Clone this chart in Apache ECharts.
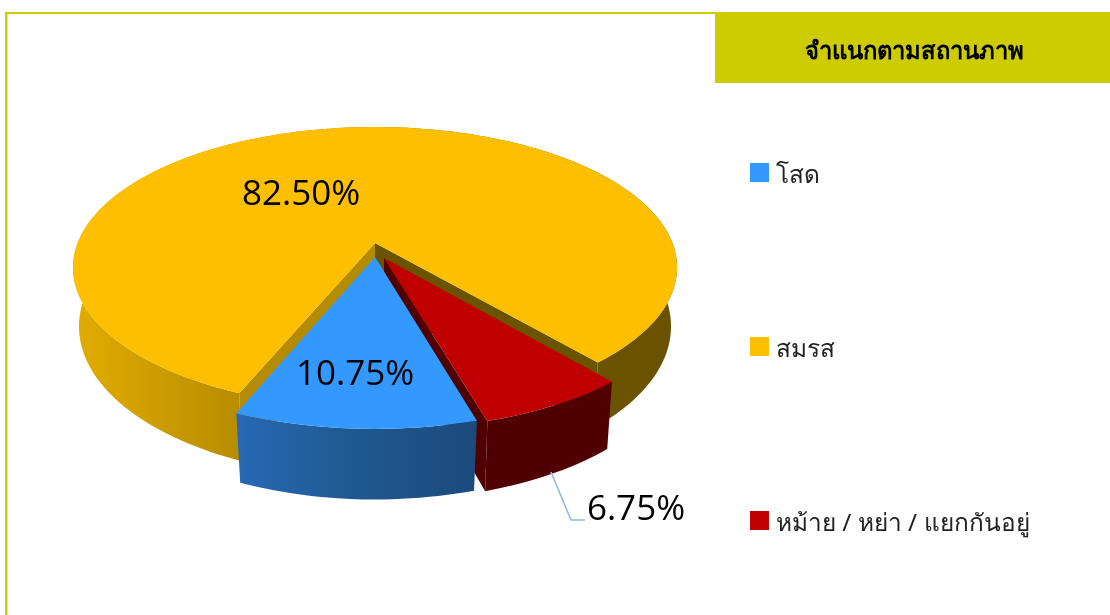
<!DOCTYPE html>
<html><head><meta charset="utf-8">
<style>html,body{margin:0;padding:0;background:#fff}#c{width:1110px;height:615px}</style>
<script src="https://cdn.jsdelivr.net/npm/echarts@6/dist/echarts.min.js"></script>
</head><body><div id="c"></div>
<script>
const chartTitle = 'จำแนกตามสถานภาพ';
const categories = ['โสด', 'สมรส', 'หม้าย / หย่า / แยกกันอยู่'];
const shares = [10.75, 82.50, 6.75];
const sliceColors = ['#3399ff', '#fdbf00', '#c00000'];
const clockwiseOrder = [0, 2, 1];
const START_DEG = -22.5;
const view = {cx: 375, cy: 243, A: 297.4, B: 136.3, k: 0.175, depth: 57};
const explode = [{u: 0, v: 0.101, r: 1, s: 0.972}, {u: 0, v: 0, r: 1, s: 0.98}, {u: 0.03, v: 0.108, r: 0.995, s: 0.98}];
const labelPos = [[355, 375], [301, 195], [636, 510]];
const leader = [[551, 472], [571, 520], [585, 520]];

const G = echarts.graphic.LinearGradient;
function project(u, v, low, e) {
  const D = 1 - view.k * v;
  return [view.cx + view.A * u / D * (low ? e.s : 1),
          view.cy + view.B * v / D + (low ? view.depth / D : 0)];
}
function polar(e, deg) {
  const t = deg * Math.PI / 180;
  return [e.u + e.r * Math.sin(t), e.v + e.r * Math.cos(t)];
}
function arc(e, a0, a1, low) {
  const n = Math.max(4, Math.ceil(Math.abs(a1 - a0) / 1.5)), out = [];
  for (let i = 0; i <= n; i++) {
    const p = polar(e, a0 + (a1 - a0) * i / n);
    out.push(project(p[0], p[1], low, e));
  }
  return out;
}
function poly(points, fill) {
  return {type: 'polygon', shape: {points}, style: {fill, stroke: null}, silent: true};
}
function wall(e, deg, fill) {
  const p = polar(e, deg);
  return poly([project(e.u, e.v, false, e), project(p[0], p[1], false, e),
               project(p[0], p[1], true, e), project(e.u, e.v, true, e)], fill);
}
const spans = [];
let acc = START_DEG;
clockwiseOrder.forEach(i => { spans[i] = [acc, acc + shares[i] * 3.6]; acc += shares[i] * 3.6; });

const sideFill = [
  new G(237, 0, 478, 0, [{offset: 0, color: '#2669b5'}, {offset: 0.5, color: '#20588f'}, {offset: 1, color: '#1b4a7c'}], true),
  new G(75, 0, 676, 0, [{offset: 0, color: '#e2ac00'}, {offset: 0.27, color: '#b88d00'}, {offset: 0.5, color: '#a07a00'}, {offset: 0.8, color: '#6c5300'}, {offset: 1, color: '#6b5200'}], true),
  '#500000'
];
function pieceRender(i) {
  return function (params, api) {
    const e = explode[i], sp = spans[i], kids = [];
    if (i === 1) {
      kids.push(wall(e, sp[0], '#6b5300'));
      kids.push(wall(e, sp[1], '#b58c00'));
    }
    if (i === 2) kids.push(wall(e, sp[0], '#500000'));
    const top = arc(e, sp[0], sp[1], false), bot = arc(e, sp[0], sp[1], true);
    kids.push(poly(top.concat(bot.slice().reverse()), sideFill[i]));
    const apex = project(e.u, e.v, false, e);
    kids.push(poly([apex].concat(top), sliceColors[i]));
    if (i === 2) kids.push({type: 'polyline', shape: {points: leader}, style: {stroke: '#8fb9e3', lineWidth: 1.6, fill: null}, silent: true});
    kids.push({type: 'text', style: {
      text: api.value(0).toFixed(2) + '%', x: labelPos[i][0], y: labelPos[i][1],
      align: 'center', verticalAlign: 'middle', fill: '#000',
      font: '35px "Open Sans", "Noto Sans", sans-serif'}, silent: true});
    return {type: 'group', children: kids};
  };
}
const legendFont = '"Noto Sans", "DejaVu Sans", sans-serif';
const chart = echarts.init(document.getElementById('c'), null, {renderer: 'canvas'});
chart.setOption({
  animation: false,
  backgroundColor: '#fff',
  title: {text: chartTitle, left: 909, top: 35, textAlign: 'center',
    textStyle: {fontSize: 23.8, fontWeight: 'bold', color: '#000', fontFamily: legendFont}},
  legend: {
    orient: 'vertical', left: 745, top: 158, itemWidth: 19, itemHeight: 19, itemGap: 148.5,
    icon: 'rect', selectedMode: false, data: categories,
    formatter: name => '{t|' + name + '}',
    textStyle: {fontSize: 24.4, color: '#222', padding: [0, 0, 0, 2], fontFamily: legendFont,
      rich: {t: {fontSize: 24.4, color: '#222', fontFamily: legendFont, padding: [8, 0, 0, 0]}}}
  },
  graphic: [
    {type: 'rect', z: 0, shape: {x: 5, y: 12, width: 2.5, height: 603}, style: {fill: '#cccc00'}, silent: true},
    {type: 'rect', z: 0, shape: {x: 5, y: 12, width: 1105, height: 2}, style: {fill: '#cccc00'}, silent: true},
    {type: 'rect', z: 0, shape: {x: 715, y: 14, width: 395, height: 69}, style: {fill: '#cccc00'}, silent: true}
  ],
  series: [1, 2, 0].map((i, n) => ({
    type: 'custom', name: categories[i], coordinateSystem: 'none', z: 2 + n,
    itemStyle: {color: sliceColors[i]},
    data: [[shares[i]]], renderItem: pieceRender(i)
  }))
});
</script></body></html>
